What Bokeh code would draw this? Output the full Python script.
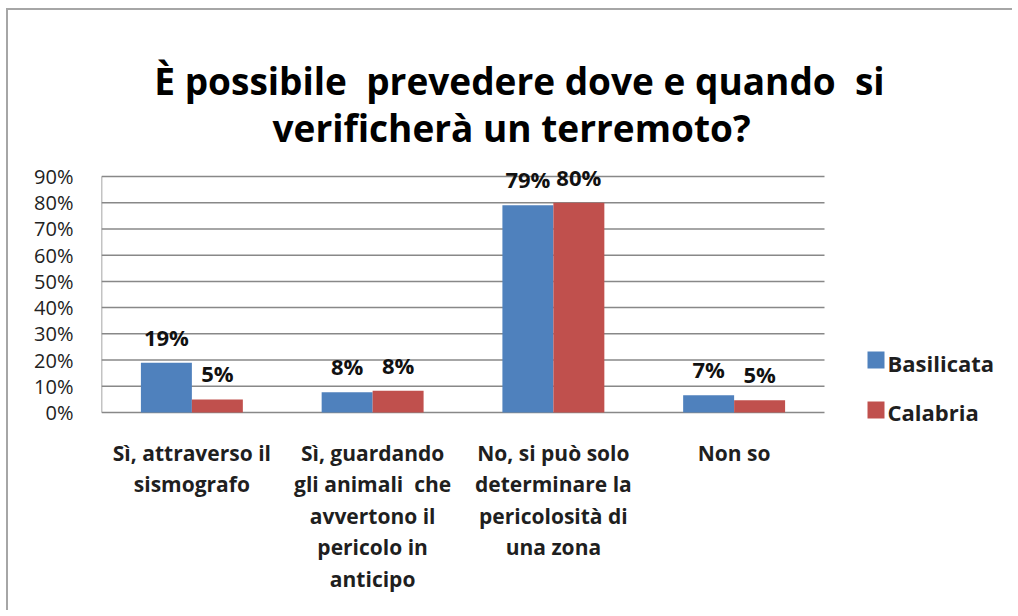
from bokeh.plotting import figure
from bokeh.models import ColumnDataSource, Range1d, FixedTicker, NumeralTickFormatter
from bokeh.core.properties import value
from bokeh.embed import file_html
from bokeh.resources import INLINE

NB = "\u00a0"
# ---- data ----
title_lines = [f"È possibile {NB}prevedere dove e quando {NB}si", "verificherà un terremoto?"]
category_lines = [
    ["Sì, attraverso il", "sismografo"],
    ["Sì, guardando", f"gli animali {NB}che", "avvertono il", "pericolo in", "anticipo"],
    ["No, si può solo", "determinare la", "pericolosità di", "una zona"],
    ["Non so"],
]
categories = [" ".join(l) for l in category_lines]
series_names = ["Basilicata", "Calabria"]
basilicata = [0.19, 0.077, 0.79, 0.066]
calabria = [0.05, 0.083, 0.80, 0.047]
y_ticks = [0.0, 0.1, 0.2, 0.3, 0.4, 0.5, 0.6, 0.7, 0.8, 0.9]

# ---- layout (pixels in page) ----
OX, OY = 8, 10            # canvas origin on page (after margin + border)
W, H = 1006, 602
ML = 93                   # room for y tick labels
FL = OX + ML              # frame left (page px)
FB0 = 412                 # page y of value 0
PPX = 180.75              # px per category
PPY = 236 / 0.9           # px per unit of value
FONT = "Open Sans"
BLUE = "#4F81BD"
RED = "#C0504D"
GRID = "#888888"

def X(px):
    return (px - FL) / PPX

def Y(py):
    return (FB0 - py) / PPY

x_range = Range1d(0, (OX + W - FL) / PPX)
y_range = Range1d(Y(OY + H), Y(OY))

p = figure(x_range=x_range, y_range=y_range, width=W, height=H,
           output_backend="svg", toolbar_location=None,
           min_border_left=ML, min_border_right=0, min_border_top=0, min_border_bottom=0)
p.styles = {"margin-left": "6px", "margin-top": "8px",
            "border-left": "2px solid #a6a6a6", "border-top": "2px solid #a6a6a6"}
p.outline_line_color = None
p.xgrid.visible = False
p.ygrid.visible = False
p.xaxis.visible = False

# y axis (labels only; line drawn as segment up to 90%)
p.yaxis.ticker = FixedTicker(ticks=y_ticks)
p.yaxis.formatter = NumeralTickFormatter(format="0%")
p.yaxis.axis_line_color = None
p.yaxis.major_tick_line_color = None
p.yaxis.minor_tick_line_color = None
p.yaxis.major_tick_out = 0
p.yaxis.major_tick_in = 0
p.yaxis.major_label_standoff = 28
p.yaxis.major_label_text_font = FONT
p.yaxis.major_label_text_font_size = "20px"
p.yaxis.major_label_text_color = "#222222"

n = len(categories)
# gridlines and axis lines
p.segment(x0=[0] * len(y_ticks), x1=[n] * len(y_ticks), y0=y_ticks, y1=y_ticks,
          line_color=GRID, line_width=1.5)
p.segment(x0=[0], x1=[0], y0=[0], y1=[max(y_ticks)], line_color=GRID, line_width=1.5)

# bars
BW = 0.282
OFF = 0.141
xc = [i + 0.5 for i in range(n)]
src = ColumnDataSource(dict(
    xb=[x - OFF for x in xc], xr=[x + OFF for x in xc],
    bas=basilicata, cal=calabria,
    bas_lab=[f"{round(v*100)}%" for v in basilicata],
    cal_lab=[f"{round(v*100)}%" for v in calabria],
    bas_y=[v + 26 / PPY for v in basilicata],
    cal_y=[v + 26 / PPY for v in calabria],
))
p.vbar(x="xb", top="bas", bottom=0, width=BW, source=src, fill_color=BLUE, line_color=None)
p.vbar(x="xr", top="cal", bottom=0, width=BW, source=src, fill_color=RED, line_color=None)

# value labels
for xcol, ycol, tcol in (("xb", "bas_y", "bas_lab"), ("xr", "cal_y", "cal_lab")):
    p.text(x=xcol, y=ycol, text=tcol, source=src, text_align="center", text_baseline="middle",
           text_font=value(FONT), text_font_style="bold", text_font_size="22px",
           text_color="#111111")

# category labels (wrapped)
cx, cy, ct = [], [], []
for i, lines in enumerate(category_lines):
    for j, line in enumerate(lines):
        cx.append(xc[i])
        cy.append(Y(452 + 31.5 * j))
        ct.append(line)
p.text(x=cx, y=cy, text=ct, text_align="center", text_baseline="middle",
       text_font=value(FONT), text_font_style="bold", text_font_size="21px", text_color="#1f1f1f")

# title
p.text(x=[X(519), X(511)], y=[Y(80), Y(127)], text=title_lines, text_align="center",
       text_baseline="alphabetic", text_font=value(FONT), text_font_style="bold",
       text_font_size="37px", text_color="#000000")

# legend
p.scatter(x=[X(875.5)] * 2, y=[Y(359.5), Y(409.5)], marker="square", size=17,
          fill_color=[BLUE, RED], line_color=None)
p.text(x=[X(887)] * 2, y=[Y(362), Y(411)], text=series_names, text_align="left",
       text_baseline="middle", text_font=value(FONT), text_font_style="bold",
       text_font_size="22px", text_color="#1f1f1f")

open("out.html", "w").write(file_html(p, INLINE))
